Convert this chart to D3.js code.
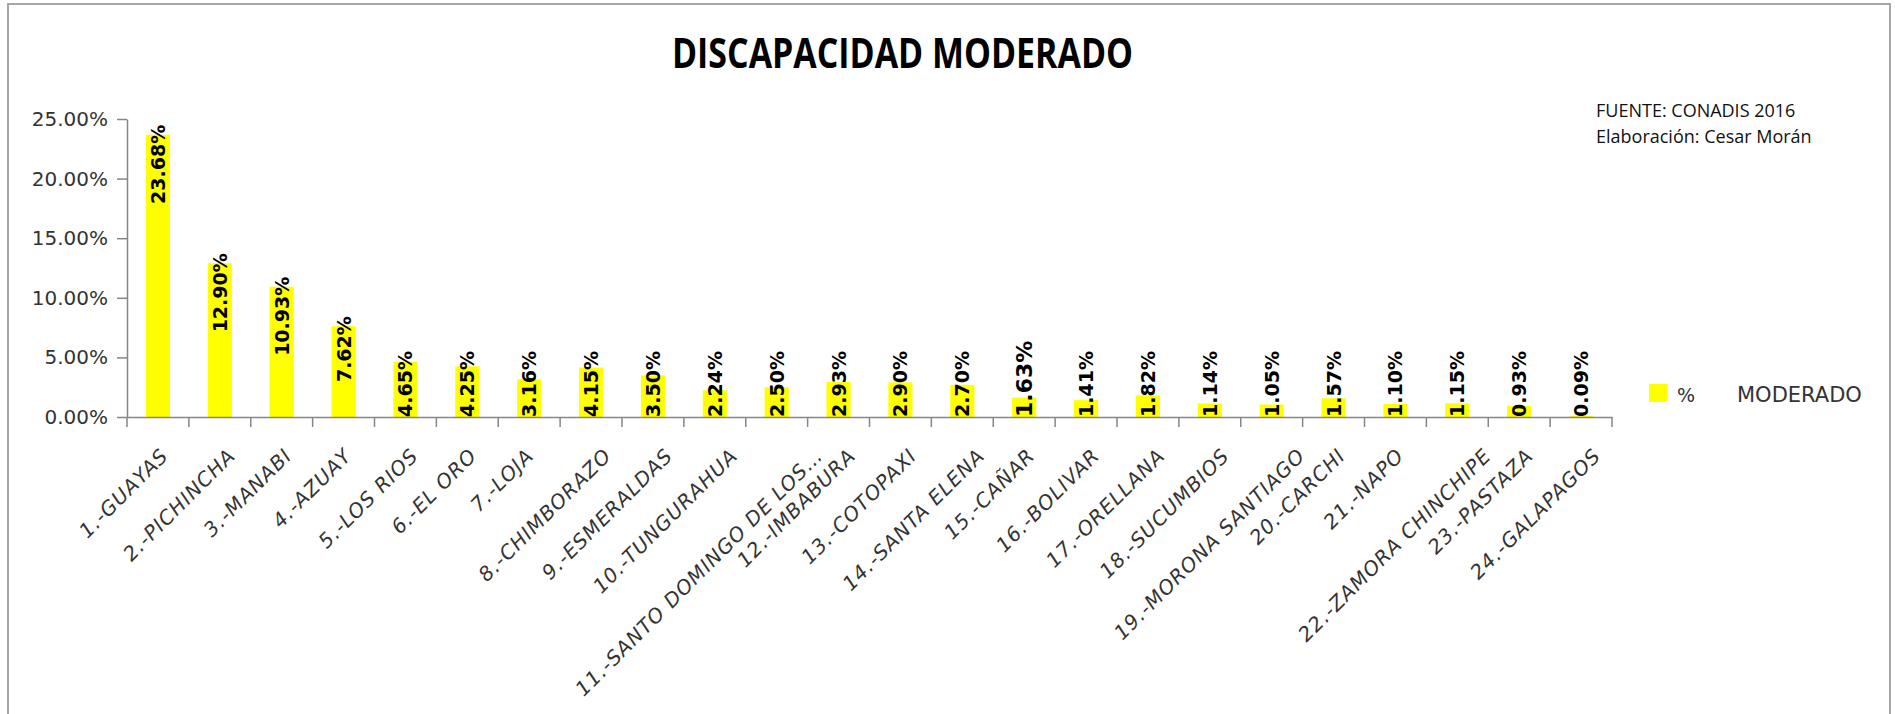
<!DOCTYPE html>
<html>
<head>
<meta charset="utf-8">
<script src="https://cdn.jsdelivr.net/npm/d3@7"></script>
<style>
	body { margin: 0; background: #fff; }
	svg { display: block; }
</style>
</head>
<body>
<div id="chart"></div>
<script>
	//data
	var provincias = [
		"1.-GUAYAS", "2.-PICHINCHA", "3.-MANABI", "4.-AZUAY", "5.-LOS RIOS",
		"6.-EL ORO", "7.-LOJA", "8.-CHIMBORAZO", "9.-ESMERALDAS", "10.-TUNGURAHUA",
		"11.-SANTO DOMINGO DE LOS…", "12.-IMBABURA", "13.-COTOPAXI", "14.-SANTA ELENA",
		"15.-CAÑAR", "16.-BOLIVAR", "17.-ORELLANA", "18.-SUCUMBIOS", "19.-MORONA SANTIAGO",
		"20.-CARCHI", "21.-NAPO", "22.-ZAMORA CHINCHIPE", "23.-PASTAZA", "24.-GALAPAGOS"
	];
	var porcentajes = [23.68, 12.90, 10.93, 7.62, 4.65, 4.25, 3.16, 4.15, 3.50, 2.24, 2.50, 2.93,
		2.90, 2.70, 1.63, 1.41, 1.82, 1.14, 1.05, 1.57, 1.10, 1.15, 0.93, 0.09];
	var yTicks = [0, 5, 10, 15, 20, 25];
	var titulo = "DISCAPACIDAD MODERADO";
	var fuente = ["FUENTE: CONADIS 2016", "Elaboración: Cesar Morán"];
	var leyenda = ["%", "MODERADO"];

	//set global vars
	var width = 1895,
		height = 714,
		plot = {left: 127, right: 1612, top: 119, bottom: 417},
		axisColor = "#868686",
		textColor = "#333333";

	var svg = d3.select("#chart").append("svg")
		.attr("width", width)
		.attr("height", height);

	//outer frame of the sheet object (open at the bottom)
	svg.append("path")
		.attr("d", "M8," + height + "V4H1890V" + height)
		.attr("fill", "none")
		.attr("stroke", "#a6a6a6")
		.attr("stroke-width", 2);

	//scales
	var x = d3.scaleBand()
		.domain(provincias)
		.range([plot.left, plot.right])
		.paddingInner(0.61)
		.paddingOuter(0.305);

	var y = d3.scaleLinear()
		.domain([0, 25])
		.range([plot.bottom, plot.top]);

	//title
	svg.append("text")
		.attr("x", 672)
		.attr("y", 68)
		.attr("font-family", "Open Sans")
		.attr("font-weight", "bold")
		.attr("font-size", 42)
		.attr("textLength", 461)
		.attr("lengthAdjust", "spacingAndGlyphs")
		.attr("fill", "#000")
		.text(titulo);

	//source note
	svg.append("g")
		.selectAll("text")
		.data(fuente)
		.enter()
		.append("text")
		.attr("x", 1596)
		.attr("y", function(d, i){ return 117 + i * 26; })
		.attr("font-family", "Open Sans")
		.attr("font-size", 18)
		.attr("fill", "#111")
		.text(function(d){ return d; });

	//y axis
	var yAxis = svg.append("g")
		.attr("transform", "translate(" + plot.left + ",0)")
		.call(d3.axisLeft(y)
			.tickValues(yTicks)
			.tickFormat(function(d){ return d.toFixed(2) + "%"; })
			.tickSize(10)
			.tickSizeOuter(0)
			.tickPadding(9));

	yAxis.selectAll("text")
		.attr("font-family", "DejaVu Sans")
		.attr("font-size", 20)
		.attr("fill", textColor);
	yAxis.selectAll("line, path").attr("stroke", axisColor).attr("stroke-width", 1.5);

	//bars
	svg.append("g")
		.selectAll("rect")
		.data(porcentajes)
		.enter()
		.append("rect")
		.attr("x", function(d, i){ return x(provincias[i]); })
		.attr("y", function(d){ return y(d); })
		.attr("width", x.bandwidth())
		.attr("height", function(d){ return y(0) - y(d); })
		.attr("fill", "#ffff00");

	//x axis line and the ticks between categories
	var xAxis = svg.append("g")
		.attr("transform", "translate(0," + plot.bottom + ")")
		.call(d3.axisBottom(x).tickSize(0).tickFormat(""));
	xAxis.select(".domain").attr("stroke", axisColor).attr("stroke-width", 1.5);

	xAxis.selectAll(".sep")
		.data(d3.range(provincias.length + 1))
		.enter()
		.append("line")
		.attr("class", "sep")
		.attr("x1", function(i){ return plot.left + i * x.step(); })
		.attr("x2", function(i){ return plot.left + i * x.step(); })
		.attr("y1", 0)
		.attr("y2", 10)
		.attr("stroke", axisColor)
		.attr("stroke-width", 1.5);

	//category labels, rotated 45 degrees
	var xLabels = svg.append("g")
		.selectAll("text")
		.data(provincias)
		.enter()
		.append("text")
		.attr("text-anchor", "end")
		.attr("font-family", "DejaVu Sans")
		.attr("font-style", "italic")
		.attr("font-size", 20)
		.attr("letter-spacing", 1)
		.attr("fill", textColor)
		.text(function(d){ return d; });

	//excel pushes the longer labels a bit further right
	xLabels.attr("transform", function(d){
		var len = this.getComputedTextLength();
		var px = x(d) + x.bandwidth() / 2 + 0.16 * len - 7;
		return "translate(" + px + "," + (plot.bottom + 40) + ") rotate(-45)";
	});

	//value labels, rotated 90 degrees
	var valueLabels = svg.append("g")
		.selectAll("text")
		.data(porcentajes)
		.enter()
		.append("text")
		.attr("text-anchor", "end")
		.attr("font-family", "DejaVu Sans")
		.attr("font-weight", "bold")
		.attr("font-size", function(d, i){ return i === 14 ? 22 : 19; }) //the CAÑAR label is bigger
		.attr("fill", "#000")
		.text(function(d){ return d.toFixed(2) + "%"; });

	valueLabels.attr("transform", function(d, i){
		var len = this.getComputedTextLength();
		var size = +d3.select(this).attr("font-size");
		var top = Math.min(y(d) - 10, y(0) - len);
		var cx = x(provincias[i]) + x.bandwidth() / 2 + size * 0.37;
		return "translate(" + cx + "," + top + ") rotate(-90)";
	});

	//legend
	var legend = svg.append("g");
	legend.append("rect")
		.attr("x", 1649)
		.attr("y", 384)
		.attr("width", 18)
		.attr("height", 18)
		.attr("fill", "#ffff00");
	legend.selectAll("text")
		.data(leyenda)
		.enter()
		.append("text")
		.attr("x", function(d, i){ return i ? 1737 : 1677; })
		.attr("y", 402)
		.attr("font-family", "DejaVu Sans")
		.attr("font-size", function(d, i){ return i ? 21 : 19; })
		.attr("fill", textColor)
		.text(function(d){ return d; });
</script>
</body>
</html>
